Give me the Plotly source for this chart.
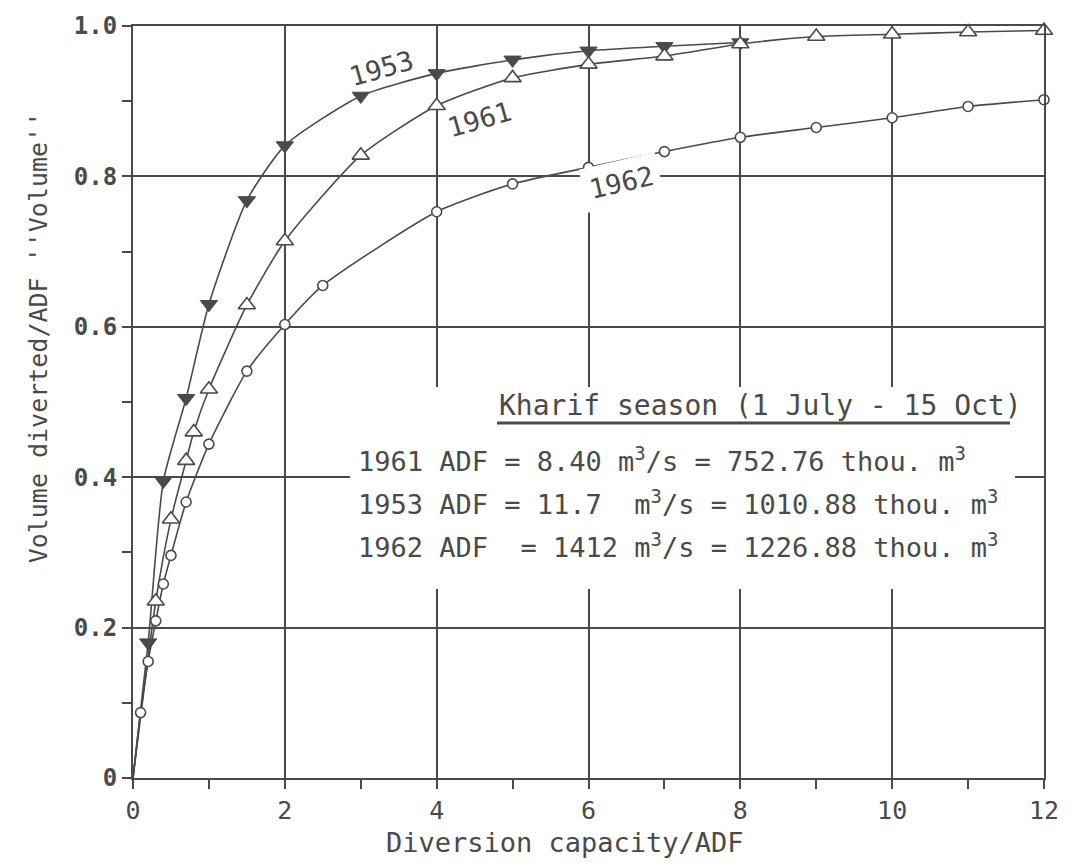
import plotly.graph_objects as go

# Diversion capacity / ADF (x) and fraction of volume diverted (y) for each year
x_1953 = [0.2, 0.4, 0.7, 1.0, 1.5, 2, 3, 4, 5, 6, 7, 8]
v_1953 = [0.18, 0.395, 0.505, 0.63, 0.768, 0.841, 0.907, 0.937, 0.955, 0.967, 0.973, 0.978]

x_1961 = [0.3, 0.5, 0.7, 0.8, 1.0, 1.5, 2, 3, 4, 5, 6, 7, 8, 9, 10, 11, 12]
v_1961 = [0.235, 0.344, 0.422, 0.46, 0.517, 0.629, 0.714, 0.828, 0.894, 0.931, 0.949,
          0.96, 0.976, 0.986, 0.989, 0.992, 0.994]

x_1962 = [0.1, 0.2, 0.3, 0.4, 0.5, 0.7, 1.0, 1.5, 2, 2.5, 4, 5, 6, 7, 8, 9, 10, 11, 12]
v_1962 = [0.087, 0.155, 0.209, 0.258, 0.296, 0.367, 0.444, 0.541, 0.603, 0.655, 0.753,
          0.79, 0.812, 0.833, 0.852, 0.865, 0.878, 0.893, 0.902]

# every curve starts at the origin
origin_x, origin_y = 0.0, 0.0

x_ticks = [0, 2, 4, 6, 8, 10, 12]
y_ticks = [0, 0.2, 0.4, 0.6, 0.8, 1.0]
y_tick_text = ["0", "0.2", "0.4", "0.6", "0.8", "1.0"]

INK = "#4a4a4a"
MONO = "DejaVu Sans Mono"

W, H = 1079, 865
L, R, T, B = 133, 35, 22, 87
PW, PH = W - L - R, H - T - B


def px(xp):
    return (xp - L) / PW


def py(yp):
    return (H - B - yp) / PH


series = [
    (x_1953, v_1953, dict(symbol="triangle-down", size=15, color=INK, line=dict(color=INK, width=1))),
    (x_1961, v_1961, dict(symbol="triangle-up", size=15, color="white", line=dict(color=INK, width=1.6))),
    (x_1962, v_1962, dict(symbol="circle", size=10, color="white", line=dict(color=INK, width=1.6))),
]

fig = go.Figure()
for xs, vs, mk in series:
    fig.add_trace(go.Scatter(
        x=[origin_x] + xs, y=[origin_y] + vs, mode="lines",
        line=dict(color=INK, width=1.6, shape="spline", smoothing=0.6),
        hoverinfo="skip", showlegend=False, cliponaxis=False,
    ))
for xs, vs, mk in series:
    fig.add_trace(go.Scatter(
        x=xs, y=vs, mode="markers", marker=mk,
        showlegend=False, cliponaxis=False,
    ))

axis_common = dict(
    showline=True, linecolor=INK, linewidth=2, mirror=True,
    showgrid=True, gridcolor=INK, gridwidth=1.5,
    ticks="outside", ticklen=9, tickwidth=1.8, tickcolor=INK,
    zeroline=False,
)

fig.update_xaxes(
    range=[0, 12], tickvals=x_ticks,
    tickfont=dict(family=MONO, size=25, color=INK),
    minor=dict(dtick=1, ticks="outside", ticklen=9, tickwidth=1.8, tickcolor=INK, showgrid=False),
    **axis_common,
)
fig.update_yaxes(
    range=[0, 1], tickvals=y_ticks, ticktext=y_tick_text,
    tickfont=dict(family=MONO, size=24, color=INK, weight="bold"),
    minor=dict(dtick=0.1, ticks="outside", ticklen=9, tickwidth=1.8, tickcolor=INK, showgrid=False),
    **axis_common,
)

shapes = [
    # blank panel behind the season note
    dict(type="rect", xref="paper", yref="paper", layer="above",
         x0=px(350), x1=px(1015), y0=py(588), y1=py(385),
         fillcolor="white", line=dict(width=0)),
    # underline of the note heading
    dict(type="line", xref="paper", yref="paper", layer="above",
         x0=px(497), x1=px(1010), y0=py(421), y1=py(421),
         line=dict(color=INK, width=3)),
]


def note(text, xp, yp, size, **kw):
    return dict(text=text, xref="paper", yref="paper", x=px(xp), y=py(yp),
                xanchor=kw.pop("xanchor", "left"), yanchor="middle", showarrow=False,
                font=dict(family=MONO, size=size, color=INK, **kw.pop("font", {})), **kw)


annotations = [
    note("Volume diverted/ADF ''Volume''", 38, 335, 25, xanchor="center", textangle=-90),
    note("Diversion capacity/ADF", 565, 843, 27, xanchor="center"),
    dict(text="1953", x=3.27, y=0.943, showarrow=False, textangle=-16,
         font=dict(family=MONO, size=27, color=INK)),
    dict(text="1961", x=4.56, y=0.876, showarrow=False, textangle=-16,
         font=dict(family=MONO, size=27, color=INK)),
    dict(text="1962", x=6.43, y=0.792, showarrow=False, textangle=-13,
         bgcolor="white", borderpad=6,
         font=dict(family=MONO, size=27, color=INK)),
    note("Kharif season (1 July - 15 Oct)", 497, 404, 28),
    note("1961 ADF = 8.40 m<sup>3</sup>/s = 752.76 thou. m<sup>3</sup>", 356, 458, 27),
    note("1953 ADF = 11.7  m<sup>3</sup>/s = 1010.88 thou. m<sup>3</sup>", 356, 501, 27),
    note("1962 ADF  = 1412 m<sup>3</sup>/s = 1226.88 thou. m<sup>3</sup>", 356, 544, 27),
]

fig.update_layout(
    width=W, height=H,
    margin=dict(l=L, r=R, t=T, b=B),
    paper_bgcolor="white", plot_bgcolor="white",
    shapes=shapes, annotations=annotations,
    showlegend=False,
)

fig.write_html("out.html")
